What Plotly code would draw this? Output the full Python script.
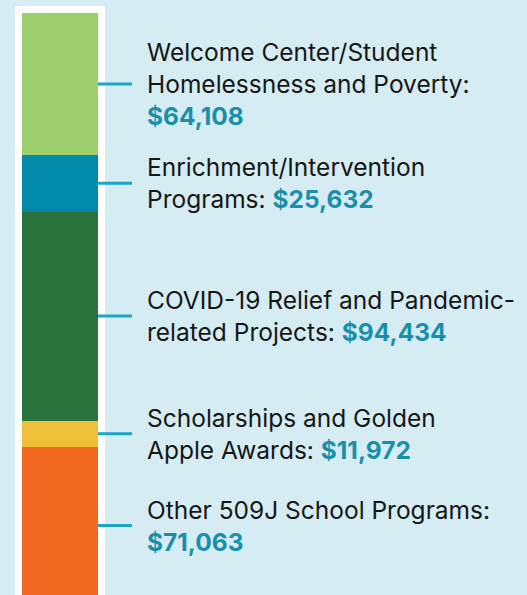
import plotly.graph_objects as go

categories = [
    "Welcome Center/Student<br>Homelessness and Poverty:<br>",
    "Enrichment/Intervention<br>Programs: ",
    "COVID-19 Relief and Pandemic-<br>related Projects: ",
    "Scholarships and Golden<br>Apple Awards: ",
    "Other 509J School Programs:<br>",
]
values = [64108, 25632, 94434, 11972, 71063]
colors = ["#9dcf6f", "#0089a8", "#2a723b", "#f0bf3a", "#f26922"]

BG = "#d4ecf2"
LINE = "#1ba3c8"
VAL = "#1a8fab"

W, H = 527, 595
px_per_unit = 76.0            # x: bar of width 1 spans 76 px
bar_left_px = 22
x0 = -0.5 - bar_left_px / px_per_unit
x1 = x0 + W / px_per_unit

scale = 0.0022126             # px per dollar
top_px = 13
y_top = -top_px / scale
y_bot = (H - top_px) / scale

fig = go.Figure()
for cat, v, c in zip(categories, values, colors):
    fig.add_trace(go.Bar(x=[0], y=[v], width=[1], marker=dict(color=c, line=dict(width=0)),
                         name=cat, hoverinfo="skip", showlegend=False))

frame_pad = 7 / px_per_unit
fig.add_shape(type="rect", xref="x", yref="y", layer="below",
              x0=-0.5 - frame_pad, x1=0.5 + frame_pad,
              y0=-7 / scale, y1=y_bot + 1000,
              fillcolor="white", line=dict(width=0))

cum = 0
for cat, v in zip(categories, values):
    mid = cum + v / 2
    cum += v
    fig.add_shape(type="line", xref="x", yref="y", x0=0.5, x1=0.5 + 34 / px_per_unit,
                  y0=mid, y1=mid, line=dict(color=LINE, width=3))
    fig.add_annotation(x=0.5 + 47 / px_per_unit, y=mid, xref="x", yref="y",
                       xanchor="left", yanchor="middle", align="left", showarrow=False,
                       text=f"{cat}<b><span style='color:{VAL}'>${v:,}</span></b>",
                       font=dict(family="Inter", size=24.5, color="#161616"))

fig.update_layout(
    width=W, height=H, margin=dict(l=0, r=0, t=0, b=0),
    paper_bgcolor=BG, plot_bgcolor=BG, barmode="stack", bargap=0,
    xaxis=dict(range=[x0, x1], visible=False, fixedrange=True),
    yaxis=dict(range=[y_bot, y_top], visible=False, fixedrange=True),
    showlegend=False,
)
fig.write_html("out.html", config={"displayModeBar": False},
               post_script="document.body.style.margin='0';document.body.style.overflow='hidden';document.body.style.background='#d4ecf2';")
